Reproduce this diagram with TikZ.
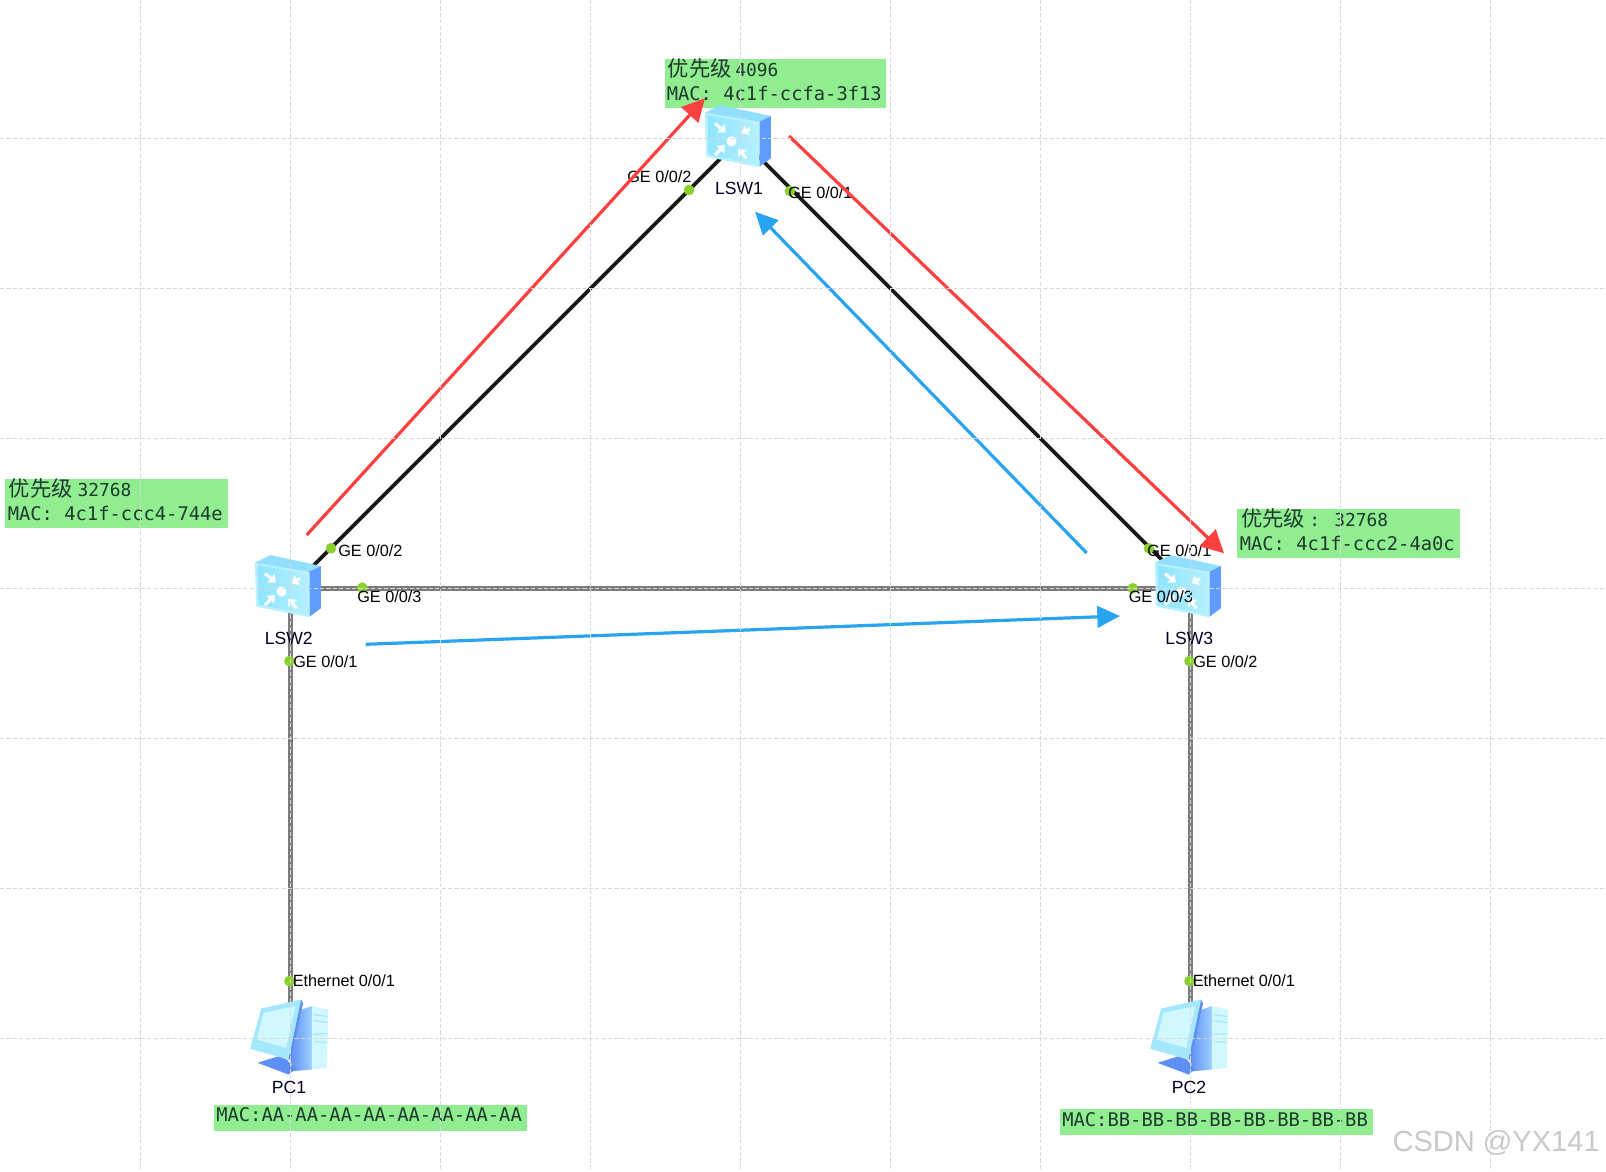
\documentclass[tikz,border=0pt]{standalone}
\usepackage{fontspec}
\setmainfont{Liberation Sans}
\newfontfamily\cjkf{Noto Sans CJK SC}
\newfontfamily\monof{DejaVu Sans Mono}
\usetikzlibrary{arrows.meta}
\definecolor{notegreen}{HTML}{90EE90}
\definecolor{notetext}{HTML}{1E3A2E}
\definecolor{portgreen}{HTML}{8CD02F}
\definecolor{gridc}{HTML}{D8D8D8}
\definecolor{linkgray}{HTML}{7C7C7C}
\definecolor{redarrow}{HTML}{FF4040}
\definecolor{bluearrow}{HTML}{28A4F0}
\definecolor{swtop}{HTML}{92DEFF}
\definecolor{swside}{HTML}{5E9DFF}
\definecolor{swfrontA}{HTML}{8FE4FF}
\definecolor{swfrontB}{HTML}{B4F0FF}
\definecolor{swedge}{HTML}{B8F2FF}
\definecolor{pclight}{HTML}{D2F8FF}
\definecolor{pcmid}{HTML}{A4E8FF}
\definecolor{pcblue}{HTML}{7DB4FF}
\definecolor{pcdark}{HTML}{5D8FF5}
\definecolor{wmark}{HTML}{C9C9C9}
\tikzset{
  x=0.75pt,y=-0.75pt,
  devnode/.style={inner sep=0pt,minimum size=10pt,draw=none},
  notebox/.style={fill=notegreen,draw=none},
  cjktext/.style={inner sep=0pt,anchor=west,font=\cjkf\fontsize{16pt}{16pt}\selectfont,text=notetext},
  monotext/.style={inner sep=0pt,anchor=west,font=\monof\fontsize{14.1pt}{14.1pt}\selectfont,text=notetext,text height=10pt,text depth=0pt},
  prio/.style={monotext,font=\monof\fontsize{13.4pt}{13.4pt}\selectfont},
  portlabel/.style={inner sep=0pt,anchor=west,font=\fontsize{12.2pt}{12.2pt}\selectfont,text=black,text height=8.8pt,text depth=0pt},
  devlabel/.style={inner sep=0pt,font=\fontsize{13.2pt}{13.2pt}\selectfont,text=black!85!blue,text height=9.4pt,text depth=0pt},
  portdot/.style={circle,fill=portgreen,inner sep=0pt,minimum size=8pt},
  blacklink/.style={black!90,line width=2.7pt},
  graylink/.style={linkgray,line width=3.4pt},
  redarr/.style={redarrow,line width=2.4pt,-{Triangle[length=17pt,width=17pt]}},
  bluearr/.style={bluearrow,line width=2.4pt,-{Triangle[length=17pt,width=16pt]}},
  gridline/.style={gridc,line width=0.75pt,dash pattern=on 3.2pt off 1.6pt},
  swarrow/.style={white,line width=2.4pt,opacity=.92,-{Triangle[length=5pt,width=8pt]}},
  switchicon/.pic={
    \shade[left color=swfrontA,right color=swfrontB,draw=swedge,line width=1.8pt,line join=round] (-34.3,-24.8) -- (18,-16) -- (18,27.2) -- (-33.3,17.2) -- cycle;
    \fill[swtop] (-35.3,-25.8) -- (-20.3,-33.5) -- (30.3,-22.5) -- (19,-16.8) -- cycle;
    \fill[swside] (19,-16.8) -- (30.3,-22.5) -- (30.3,19.8) -- (19,28.2) -- cycle;
    \draw[swarrow] (-25.5,-15) -- (-14.5,-6);
    \draw[swarrow] (9.5,-10) -- (1,-5);
    \draw[swarrow] (-25.5,16.5) -- (-15.5,6.5);
    \draw[swarrow] (6,20) -- (-2,10);
    \fill[white] (-9,3) circle (5);
  },
  pcicon/.pic={
    \shade[left color=pcdark,right color=pcblue!60!pclight] (11.3,-29) -- (21.3,-32.3) -- (21.3,31) -- (3,32.7) -- (-0.3,21) -- cycle;
    \fill[pclight] (21.3,-32.3) -- (38,-29) -- (36.3,29.3) -- (21.3,31) -- cycle;
    \draw[pcmid,line width=0.9pt] (23,-24) -- (37,-22) (23,-18) -- (37,-16) (23,-4) -- (37,-5) (24,3) -- (36,4);
    \fill[pcdark] (-33,24.3) -- (-12,17.7) -- (-3.7,21) -- (4.7,31) -- (-2,36) -- cycle;
    \fill[pcmid] (-29.3,-30) -- (10.7,-39) -- (-2,21) -- (-40.3,10.3) -- cycle;
    \fill[pcdark] (10.7,-39) -- (12.5,-35) -- (0.5,21) -- (-2,21) -- cycle;
    \fill[pclight] (-27,-25.7) -- (4.7,-32.3) -- (-4.3,9.3) -- (-33.7,1) -- cycle;
  },
}
\begin{document}
\begin{tikzpicture}
\useasboundingbox (0,0) rectangle (1606,1171);
\fill[white] (0,0) rectangle (1606,1171);

% device anchors
\node[devnode] (lsw1) at (740.5,138.5) {};
\node[devnode] (lsw2) at (290.5,588.5) {};
\node[devnode] (lsw3) at (1190.5,588.5) {};
\node[devnode] (pc1) at (290.5,1038.5) {};
\node[devnode] (pc2) at (1190.5,1038.5) {};

% links
\draw[blacklink] (lsw1.center) -- (lsw2.center);
\draw[blacklink] (lsw1.center) -- (lsw3.center);
\draw[graylink] (lsw2.center) -- (lsw3.center);
\draw[graylink] (lsw2.center) -- (pc1.center);
\draw[graylink] (lsw3.center) -- (pc2.center);

% notes
\fill[notebox] (664.5,59) rectangle (886,108);
\fill[notebox] (5,479) rectangle (227.5,528);
\fill[notebox] (1237,509) rectangle (1459.5,558);
\fill[notebox] (213.5,1104.5) rectangle (526.5,1130.5);
\fill[notebox] (1060,1109) rectangle (1372.5,1134.5);

\node[cjktext] (n1a) at (667.5,68.5) {优先级};
\node[prio] (n1b) at (735,70) {4096};
\node[monotext] (n1c) at (666.5,93.8) {MAC: 4c1f-ccfa-3f13};
\node[cjktext] (n2a) at (8.5,488.5) {优先级};
\node[prio] (n2b) at (77.3,490) {32768};
\node[monotext] (n2c) at (7.5,514) {MAC: 4c1f-ccc4-744e};
\node[cjktext] (n3a) at (1241,518.5) {优先级};
\node[prio] (n3b) at (1309,520) {: 32768};
\node[monotext] (n3c) at (1239.5,544) {MAC: 4c1f-ccc2-4a0c};
\node[monotext] (n4) at (216,1115) {MAC:AA-AA-AA-AA-AA-AA-AA-AA};
\node[monotext] (n5) at (1062,1119.5) {MAC:BB-BB-BB-BB-BB-BB-BB-BB};

% icons
\pic at (lsw1) {switchicon};
\pic at (lsw2) {switchicon};
\pic at (lsw3) {switchicon};
\pic at (pc1) {pcicon};
\pic at (pc2) {pcicon};

% ports
\node[portdot] (p1) at (689,190) {};
\node[portdot] (p2) at (790,191) {};
\node[portdot] (p3) at (331,548.3) {};
\node[portdot] (p4) at (362.3,587.7) {};
\node[portdot] (p5) at (289.5,661) {};
\node[portdot] (p6) at (1149,548.3) {};
\node[portdot] (p7) at (1132.7,588.3) {};
\node[portdot] (p8) at (1189.5,661) {};
\node[portdot] (p9) at (289.5,981) {};
\node[portdot] (p10) at (1189.5,981) {};

\node[portlabel] (t1) at (627,177) {GE 0/0/2};
\node[portlabel] (t2) at (788,192.5) {GE 0/0/1};
\node[portlabel] (t3) at (338,550.7) {GE 0/0/2};
\node[portlabel] (t4) at (357,597) {GE 0/0/3};
\node[portlabel] (t5) at (293,661.5) {GE 0/0/1};
\node[portlabel] (t6) at (1147,551) {GE 0/0/1};
\node[portlabel] (t7) at (1128.5,597) {GE 0/0/3};
\node[portlabel] (t8) at (1193,661.5) {GE 0/0/2};
\node[portlabel] (t9) at (292.5,981) {Ethernet 0/0/1};
\node[portlabel] (t10) at (1192.5,981) {Ethernet 0/0/1};

\node[devlabel] (d1) at (739,188) {LSW1};
\node[devlabel] (d2) at (288.8,638.3) {LSW2};
\node[devlabel] (d3) at (1189.2,638.3) {LSW3};
\node[devlabel] (d4) at (289,1087.5) {PC1};
\node[devlabel] (d5) at (1189,1087.5) {PC2};

% direction arrows
\coordinate (r1a) at (306.7,535);
\coordinate (r1b) at (705,98.3);
\coordinate (r2a) at (789,136);
\coordinate (r2b) at (1224,553.3);
\coordinate (b1a) at (1086.7,553);
\coordinate (b1b) at (755,211.7);
\coordinate (b2a) at (365.7,644.3);
\coordinate (b2b) at (1120,616);
\draw[redarr] (r1a) -- (r1b);
\draw[redarr] (r2a) -- (r2b);
\draw[bluearr] (b1a) -- (b1b);
\draw[bluearr] (b2a) -- (b2b);

% background grid, which lies over everything
\foreach \gx in {140.5,290.5,440.5,590.5,740.5,890.5,1040.5,1190.5,1340.5,1490.5}
  \draw[gridline] (\gx,0) -- (\gx,1171);
\foreach \gy in {138.5,288.5,438.5,588.5,738.5,888.5,1038.5}
  \draw[gridline] (0,\gy) -- (1606,\gy);

\node[inner sep=0pt,anchor=east,font=\fontsize{21.8pt}{21.8pt}\selectfont,text=wmark] (wm) at (1600,1143) {CSDN @YX141};
\end{tikzpicture}
\end{document}
